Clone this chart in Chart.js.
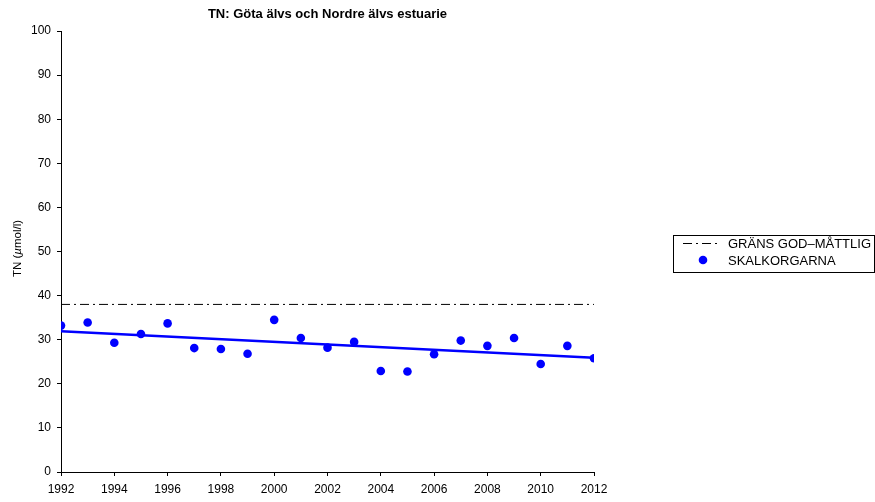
<!DOCTYPE html>
<html>
<head>
<meta charset="utf-8">
<script src="https://cdn.jsdelivr.net/npm/chart.js@4/dist/chart.umd.min.js"></script>
<style>
html,body{margin:0;padding:0;background:#fff;}
#wrap{width:875px;height:502px;position:relative;}
</style>
</head>
<body>
<div id="wrap"><canvas id="c" width="875" height="502"></canvas></div>
<script>
const chartTitle = "TN: Göta älvs och Nordre älvs estuarie";
const yAxisTitleParts = ["TN (", "µ", "mol/l)"];
const years = [1992,1993,1994,1995,1996,1997,1998,1999,2000,2001,2002,2003,2004,2005,2006,2007,2008,2009,2010,2011,2012];
const tnValues = [33.2,33.9,29.3,31.3,33.7,28.1,27.9,26.8,34.5,30.4,28.2,29.5,22.9,22.8,26.7,29.8,28.6,30.4,24.5,28.6,25.8];
const limitYears = [1992, 2012];
const limitValues = [38, 38];
const trendYears = [1992, 2012];
const trendValues = [31.9, 25.9];
const limitLabel = "GRÄNS GOD–MÅTTLIG";
const pointLabel = "SKALKORGARNA";
const xTicks = [1992,1994,1996,1998,2000,2002,2004,2006,2008,2010,2012];
const yTicks = [0,10,20,30,40,50,60,70,80,90,100];

const FONT = "'Liberation Sans', Arial, Helvetica, sans-serif";
const toXY = (xs, ys) => xs.map((x, i) => ({x: x, y: ys[i]}));

const extrasPlugin = {
  id: 'extras',
  afterDraw(chart) {
    const ctx = chart.ctx;
    const ca = chart.chartArea;
    ctx.save();
    // title
    ctx.fillStyle = '#000';
    ctx.font = "bold 13px " + FONT;
    ctx.textAlign = 'center';
    ctx.textBaseline = 'middle';
    ctx.fillText(chartTitle, (ca.left + ca.right) / 2, 14);

    // y axis title with italic mu
    ctx.save();
    ctx.translate(18, (ca.top + ca.bottom) / 2 - 3);
    ctx.rotate(-Math.PI / 2);
    ctx.textAlign = 'left';
    ctx.textBaseline = 'middle';
    const fN = "11.5px " + FONT, fI = "italic 11.5px " + FONT;
    const widths = yAxisTitleParts.map((t, i) => { ctx.font = (i === 1 ? fI : fN); return ctx.measureText(t).width; });
    let px = -widths.reduce((a, b) => a + b, 0) / 2;
    yAxisTitleParts.forEach((t, i) => {
      ctx.font = (i === 1 ? fI : fN);
      ctx.fillText(t, px, 0);
      px += widths[i];
    });
    ctx.restore();

    // legend box
    const lx = 673, ly = 235, lw = 201, lh = 37;
    ctx.strokeStyle = '#000';
    ctx.lineWidth = 1;
    ctx.strokeRect(lx + 0.5, ly + 0.5, lw, lh);
    ctx.font = "13px " + FONT;
    ctx.textAlign = 'left';
    ctx.textBaseline = 'middle';
    const items = chart.data.datasets.filter(d => d.legendShow);
    items.forEach((d, i) => {
      const yy = ly + 8 + i * 17;
      if (d.showLine) {
        ctx.strokeStyle = d.borderColor;
        ctx.lineWidth = d.borderWidth;
        ctx.setLineDash(d.borderDash || []);
        ctx.beginPath();
        ctx.moveTo(683, yy + 0.5);
        ctx.lineTo(721, yy + 0.5);
        ctx.stroke();
        ctx.setLineDash([]);
      } else {
        ctx.fillStyle = d.backgroundColor;
        ctx.beginPath();
        ctx.arc(703, yy, 4.3, 0, Math.PI * 2);
        ctx.fill();
      }
      ctx.fillStyle = '#000';
      ctx.fillText(d.label, 728, yy + 1);
    });
    ctx.restore();
  }
};

new Chart(document.getElementById('c'), {
  type: 'scatter',
  data: {
    datasets: [
      {
        label: limitLabel,
        legendShow: true,
        data: toXY(limitYears, limitValues),
        showLine: true,
        borderColor: '#000',
        borderWidth: 1,
        borderDash: [9, 4, 2, 4],
        pointRadius: 0,
        fill: false
      },
      {
        label: pointLabel,
        legendShow: true,
        data: toXY(years, tnValues),
        showLine: false,
        backgroundColor: '#0000ff',
        borderColor: '#0000ff',
        borderWidth: 0,
        pointRadius: 4.3,
        pointHoverRadius: 4.3
      },
      {
        label: 'trend',
        legendShow: false,
        data: toXY(trendYears, trendValues),
        showLine: true,
        borderColor: '#0000ff',
        borderWidth: 2.5,
        pointRadius: 0,
        fill: false
      }
    ]
  },
  options: {
    responsive: false,
    animation: false,
    events: [],
    layout: { padding: { top: 31, right: 281, bottom: 0, left: 0 } },
    plugins: {
      legend: { display: false },
      title: { display: false },
      tooltip: { enabled: false }
    },
    scales: {
      x: {
        type: 'linear',
        min: 1992, max: 2012,
        afterBuildTicks: (s) => { s.ticks = xTicks.map(v => ({value: v})); },
        afterFit: (s) => { s.height = 30; },
        grid: { display: true, drawOnChartArea: false, drawTicks: true, tickLength: 4, color: '#000', lineWidth: 1 },
        border: { display: true, color: '#000', width: 1 },
        ticks: {
          color: '#000', font: { family: FONT, size: 12 }, padding: 6,
          maxRotation: 0, autoSkip: false,
          callback: (v) => String(v)
        }
      },
      y: {
        type: 'linear',
        min: 0, max: 100,
        afterBuildTicks: (s) => { s.ticks = yTicks.map(v => ({value: v})); },
        afterFit: (s) => { s.width = 61; },
        grid: { display: true, drawOnChartArea: false, drawTicks: true, tickLength: 4, color: '#000', lineWidth: 1 },
        border: { display: true, color: '#000', width: 1 },
        ticks: { color: '#000', font: { family: FONT, size: 12 }, padding: 6 },
        title: { display: false }
      }
    }
  },
  plugins: [extrasPlugin]
});
</script>
</body>
</html>
